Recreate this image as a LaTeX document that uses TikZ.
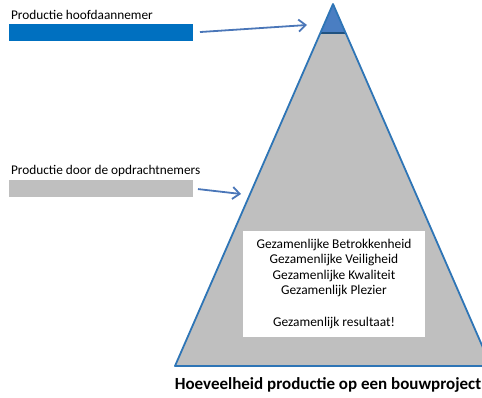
\documentclass[tikz,border=0pt]{standalone}
\usepackage[dvipsnames]{xcolor}
\usepackage{fontspec}
\setmainfont{Carlito}
\usepackage{tikz}
\usetikzlibrary{arrows.meta}
\usetikzlibrary{calc}

\definecolor{barblue}{HTML}{0070C0}
\definecolor{topblue}{HTML}{4A7EC2}
\definecolor{edgeblue}{HTML}{2E75B6}
\definecolor{arrowblue}{HTML}{4A76B8}
\definecolor{massgray}{HTML}{BFBFBF}

\begin{document}
\begin{tikzpicture} [
    x=1pt, y=-1pt,
    every node/.style = {inner sep=0pt, outer sep=0pt},
    legendbar/.style = {rectangle, minimum width=184pt, minimum height=17pt, anchor=north west},
    legendtext/.style = {anchor=west, font=\fontsize{13.3}{15}\selectfont},
    pointer/.style = {draw=arrowblue, line width=1.8pt, -{Straight Barb[length=7pt, width=12pt]}}
]
    \useasboundingbox (0,0) rectangle (482,398);

    % pyramide
    \coordinate (top) at (333,4);
    \coordinate (bl) at (175,366);
    \coordinate (br) at (491,366);
    \coordinate (tl) at ($(top)!0.08!(bl)$);
    \coordinate (tr) at ($(top)!0.08!(br)$);
    \fill[massgray] (bl) -- (top) -- (br) -- cycle;
    \fill[topblue] (tl) -- (top) -- (tr) -- cycle;
    \draw[edgeblue!70!black, line width=1.2pt] (tl) -- (tr);
    \draw[edgeblue, line width=1.8pt, line join=round] (bl) -- (top) -- (br) -- cycle;

    % legenda
    \node[legendtext] (mainlabel) at (11,15) {Productie hoofdaannemer};
    \node[legendbar, fill=barblue] (main) at (9,24) {};
    \node[legendtext] (sublabel) at (11,171) {Productie door de opdrachtnemers};
    \node[legendbar, fill=massgray] (subs) at (9,180) {};

    \coordinate (mainend) at (307,25);
    \coordinate (subsend) at (241,194);
    \draw[pointer, shorten <=7pt] (main.east) -- (mainend);
    \draw[pointer, shorten <=5pt] (subs.east) -- (subsend);

    % tekstvak
    \node[fill=white, minimum width=182pt, minimum height=106pt, align=center,
          font=\fontsize{13.4}{15.3}\selectfont] (values) at (334,284) {%
        Gezamenlijke Betrokkenheid\\
        Gezamenlijke Veiligheid\\
        Gezamenlijke Kwaliteit\\
        Gezamenlijk Plezier\\[17pt]
        Gezamenlijk resultaat!};

    \node[font=\bfseries\fontsize{17}{19}\selectfont] (title) at (328,385) {Hoeveelheid productie op een bouwproject};
\end{tikzpicture}
\end{document}
